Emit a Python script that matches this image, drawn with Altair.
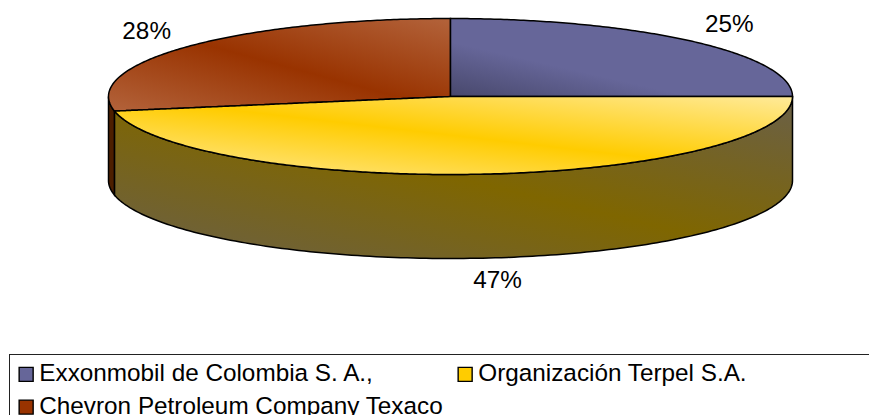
import math
import altair as alt
import pandas as pd

categories = ["Exxonmobil de Colombia S. A.,", "Organización Terpel S.A.", "Chevron Petroleum Company Texaco"]
shares = [25, 47, 28]
colors = ["#666699", "#FFCC00", "#993300"]

FONT = "Liberation Sans"
CX, CY, RX, RY, DEPTH = 450.5, 96.5, 342, 78, 84
N = 160

a0 = 0.0
a1 = a0 + shares[0] / 100 * 360
a2 = a1 + shares[1] / 100 * 360
a3 = a2 + shares[2] / 100 * 360


def px(a):
    return CX + RX * math.sin(math.radians(a))


def py(a):
    return CY - RY * math.cos(math.radians(a))


def angles(s, e):
    return [s + (e - s) * i / N for i in range(N + 1)]


xe, ye = px(a2), py(a2)

exxon_top = pd.DataFrame([{"x": px(a), "y": py(a), "y2": CY} for a in angles(a0, a1)])

terpel_rows = []
for a in sorted(set(angles(a1, 180) + angles(180, a2))):
    x, low = px(a), py(a)
    up = CY if x >= CX else CY + (ye - CY) * (CX - x) / (CX - xe)
    terpel_rows.append({"x": x, "y": up, "y2": low})
terpel_top = pd.DataFrame(terpel_rows)

chevron_rows = [{"x": xe, "y": 2 * CY - ye, "y2": ye}]
for a in angles(270, 360):
    x = px(a)
    top = py(a)
    low = CY + (ye - CY) * (CX - x) / (CX - xe) if x >= xe else 2 * CY - top
    chevron_rows.append({"x": x, "y": top, "y2": low})
chevron_top = pd.DataFrame(chevron_rows).sort_values("x")

terpel_wall = pd.DataFrame([{"x": px(a), "y": py(a), "y2": py(a) + DEPTH} for a in angles(a1, a2)])
chevron_wall = pd.DataFrame([{"x": px(a), "y": py(a), "y2": py(a) + DEPTH} for a in angles(a2, 270)])

mids = [(a0 + a1) / 2, (a1 + a2) / 2, (a2 + a3) / 2]
nudge = [0, 10, 0]
labels = pd.DataFrame({
    "x": [CX + 1.153 * RX * math.sin(math.radians(m)) + n for m, n in zip(mids, nudge)],
    "y": [CY - 1.3 * RY * math.cos(math.radians(m)) + (DEPTH if math.cos(math.radians(m)) < 0 else 0) for m in mids],
    "t": [f"{s}%" for s in shares],
})

X = alt.X("x:Q", axis=None, scale=alt.Scale(domain=[8, 869], nice=False, zero=False))
Y = alt.Y("y:Q", axis=None, stack=None, scale=alt.Scale(domain=[8, 415], reverse=True, nice=False, zero=False))


def diag(edge, mid):
    return alt.Gradient(
        gradient="linear", x1=0, y1=1, x2=1, y2=0,
        stops=[alt.GradientStop(offset=0, color=edge),
               alt.GradientStop(offset=0.5, color=mid),
               alt.GradientStop(offset=1, color=edge)],
    )


blue_fill = alt.Gradient(
    gradient="linear", x1=0, y1=1, x2=1, y2=0,
    stops=[alt.GradientStop(offset=0, color="#48486C"),
           alt.GradientStop(offset=0.35, color="#666699"),
           alt.GradientStop(offset=1, color="#666699")],
)


def face(df, fill):
    return alt.Chart(df).mark_area(fill=fill, stroke="#000000", strokeWidth=1.5).encode(x=X, y=Y, y2="y2:Q")


legend_layer = alt.Chart(pd.DataFrame({"c": categories, "x": [CX] * 3, "y": [CY] * 3})).mark_square(size=10, filled=True).encode(
    x=X, y=Y,
    color=alt.Color("c:N", sort=categories,
                    scale=alt.Scale(domain=categories, range=colors),
                    legend=alt.Legend(
                        title=None, orient="none", legendX=6, legendY=354, columns=2, direction="horizontal",
                        columnPadding=9, rowPadding=8, symbolType="square", symbolSize=196,
                        symbolStrokeColor="#000000", symbolStrokeWidth=1.4, symbolOpacity=1,
                        labelFont=FONT, labelFontSize=24.3, labelColor="#000000", labelOffset=1,
                        labelLimit=500, padding=0)),
)

box_top = alt.Chart(pd.DataFrame({"i": [0]})).mark_rule(color="#222222", strokeWidth=1).encode(
    x=alt.value(1), x2=alt.value(861), y=alt.value(346.5))
box_left = alt.Chart(pd.DataFrame({"i": [0]})).mark_rule(color="#222222", strokeWidth=1).encode(
    x=alt.value(1.5), y=alt.value(346), y2=alt.value(407))

text = alt.Chart(labels).mark_text(font=FONT, fontSize=24.3, color="#000000").encode(x=X, y=Y, text="t:N")

chart = alt.layer(
    legend_layer,
    face(chevron_wall, "#4D1F00"),
    face(terpel_wall, diag("#6A6048", "#7F6600")),
    face(chevron_top, diag("#B3633B", "#993300")),
    face(exxon_top, blue_fill),
    face(terpel_top, diag("#FFEA9A", "#FFCC00")),
    text, box_top, box_left,
).properties(
    width=861, height=407, padding=0,
    autosize=alt.AutoSizeParams(type="none"),
).configure_view(stroke=None)

chart.save("out.html", embed_options={"renderer": "svg", "actions": False})
